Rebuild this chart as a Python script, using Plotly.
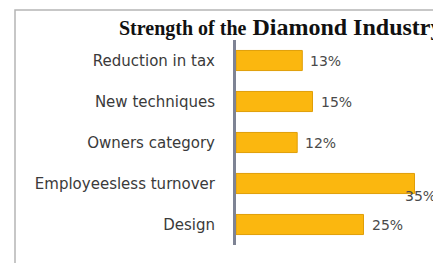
import plotly.graph_objects as go

categories = ["Reduction in tax", "New techniques", "Owners category",
              "Employeesless turnover", "Design"]
values = [13, 15, 12, 35, 25]
value_labels = ["13%", "15%", "12%", "35%", "25%"]

W, H = 433, 263
ML, MR, MT, MB = 236, 0, 40, 18
PW, PH = W - ML - MR, H - MT - MB

fig = go.Figure(go.Bar(
    x=values, y=categories, orientation="h",
    marker=dict(color="#FBB70F", line=dict(color="#E09E08", width=1)),
    width=0.49, hoverinfo="skip",
))

lab_font = dict(family="DejaVu Sans", size=14, color="#4a4a4a")
annotations = []
for cat, v, lab in zip(categories, values, value_labels):
    if v >= 30:
        annotations.append(dict(x=v, y=cat, xref="x", yref="y", text=lab,
                                showarrow=False, xanchor="left", xshift=-12, yshift=-12,
                                font=lab_font))
    else:
        annotations.append(dict(x=v, y=cat, xref="x", yref="y", text=lab,
                                showarrow=False, xanchor="left", xshift=6,
                                font=lab_font))

annotations.append(dict(
    x=(280 - ML) / PW, y=(H - MB - 27) / PH, xref="paper", yref="paper",
    text="<b><span style='font-size:20px'>Strength of the</span> Diamond Industry</b>",
    showarrow=False, xanchor="center", yanchor="middle",
    font=dict(family="Liberation Serif", size=24, color="#111111"),
))

fig.update_layout(
    width=W, height=H,
    margin=dict(l=ML, r=MR, t=MT, b=MB, autoexpand=False),
    paper_bgcolor="white", plot_bgcolor="white",
    showlegend=False,
    xaxis=dict(range=[0, PW / 5.1], visible=False, fixedrange=True),
    yaxis=dict(categoryorder="array", categoryarray=categories, autorange="reversed",
               showline=True, linecolor="#7E8394", linewidth=3, automargin=False,
               showgrid=False, ticks="", ticklabelstandoff=15, fixedrange=True,
               tickfont=dict(family="DejaVu Sans", size=15, color="#3a3a3a")),
    annotations=annotations,
    shapes=[dict(type="rect", xref="paper", yref="paper",
                 x0=(15 - ML) / PW, x1=1.3,
                 y0=-0.3, y1=(H - MB - 10) / PH,
                 line=dict(color="#b5b5b5", width=1.5), layer="below")],
)

fig.write_html("out.html", config={"displayModeBar": False},
               post_script="document.body.style.margin='0';document.body.style.overflow='hidden';")
